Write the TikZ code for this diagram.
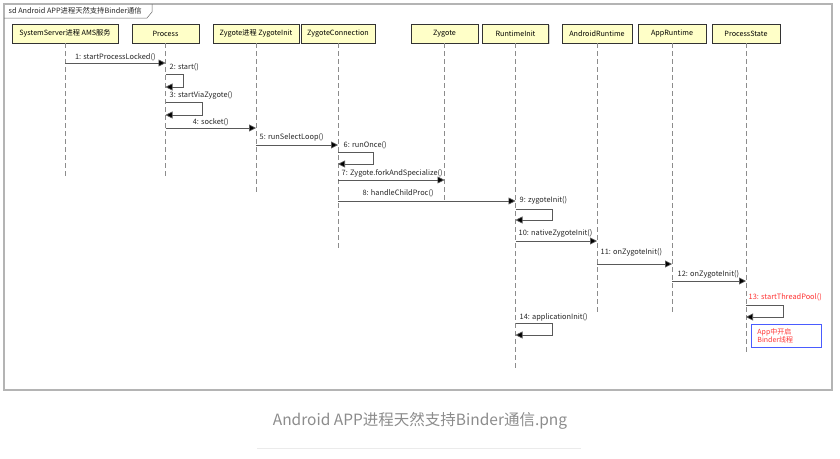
\documentclass[tikz,border=0pt]{standalone}
\usepackage{fontspec}
\setmainfont{Noto Sans CJK SC}
\usetikzlibrary{arrows.meta, positioning, shadows}

\definecolor{headfill}{HTML}{FFFFC8}
\definecolor{framegray}{HTML}{B4B4B4}
\definecolor{capgray}{HTML}{8C8C8C}
\definecolor{notered}{HTML}{FF3333}
\definecolor{noteblue}{HTML}{4A5CFF}

\tikzset{
  head/.style={draw=black!80, fill=headfill, minimum height=19pt, inner sep=0pt,
    font=\fontsize{7.2}{8}\selectfont,
    drop shadow={shadow xshift=1pt, shadow yshift=-1pt, fill=black!35}},
  life/.style={draw=black!45, dash pattern=on 5pt off 3pt, line width=0.7pt},
  msg/.style={draw=black!65, line width=0.7pt, -{Triangle[length=7pt,width=7pt,fill=black]}},
  lbl/.style={font=\fontsize{7.4}{8}\selectfont, inner sep=0.5pt, text=black!85},
}

\begin{document}
\begin{tikzpicture}[x=1pt, y=-1pt]
    \useasboundingbox (0,0) rectangle (840,458);

    % --- 1. 外框與標題 ---
    \draw[framegray, line width=1.5pt] (4,4) rectangle (832,390);
    \draw[black!60, line width=0.5pt] (4,18) -- (147,18) -- (152,12) -- (152,4);
    \node[lbl, anchor=west, font=\fontsize{7.3}{8}\selectfont] (title) at (8,11) {sd Android APP进程天然支持Binder通信};

    % --- 2. 參與者 ---
    \node[head, minimum width=106pt] (ss)  at (65,33.5)  {SystemServer进程 AMS服务};
    \node[head, minimum width=67pt]  (proc) at (165.5,33.5) {Process};
    \node[head, minimum width=86pt]  (zi)  at (256,33.5)  {Zygote进程 ZygoteInit};
    \node[head, minimum width=74pt]  (zc)  at (338,33.5)  {ZygoteConnection};
    \node[head, minimum width=67pt]  (zy)  at (444.5,33.5) {Zygote};
    \node[head, minimum width=66pt]  (ri)  at (515.5,33.5) {RuntimeInit};
    \node[head, minimum width=70pt]  (ar)  at (597,33.5)  {AndroidRuntime};
    \node[head, minimum width=68pt]  (apr) at (672,33.5)  {AppRuntime};
    \node[head, minimum width=68pt]  (ps)  at (746,33.5)  {ProcessState};

    % --- 3. 生命線 ---
    \draw[life] (ss.south)   -- (ss |- 0,177);
    \draw[life] (proc.south) -- (proc |- 0,177);
    \draw[life] (zi.south)   -- (zi |- 0,193);
    \draw[life] (zc.south)   -- (zc |- 0,248);
    \draw[life] (zy.south)   -- (zy |- 0,202);
    \draw[life] (ri.south)   -- (ri |- 0,370);
    \draw[life] (ar.south)   -- (ar |- 0,313);
    \draw[life] (apr.south)  -- (apr |- 0,313);
    \draw[life] (ps.south)   -- (ps |- 0,353);

    % --- 4. 訊息 1--8 ---
    \draw[msg] (ss |- 0,63) -- node[lbl, above=1.5pt] {1: startProcessLocked()} (proc |- 0,63);
    \node[lbl, anchor=south west] (m2) at (169,72) {2: start()};
    \draw[msg] (proc |- 0,74) -- ++(18,0) -- ++(0,13) -- (proc |- 0,87);
    \node[lbl, anchor=south west] (m3) at (169,100) {3: startViaZygote()};
    \draw[msg] (proc |- 0,102) -- ++(37,0) -- ++(0,13) -- (proc |- 0,115);
    \draw[msg] (proc |- 0,128) -- node[lbl, above=1.5pt] {4: socket()} (zi |- 0,128);
    \draw[msg] (zi |- 0,145) -- (zc |- 0,145);
    \node[lbl, anchor=south west] (m5) at (259,142) {5: runSelectLoop()};
    \node[lbl, anchor=south west] (m6) at (343,150) {6: runOnce()};
    \draw[msg] (zc |- 0,152) -- ++(35,0) -- ++(0,12) -- (zc |- 0,164);
    \draw[msg] (zc |- 0,180) -- (zy |- 0,180);
    \node[lbl, anchor=south west] (m7) at (341,178) {7: Zygote.forkAndSpecialize()};
    \draw[msg] (zc |- 0,201) -- (ri |- 0,201);
    \node[lbl, anchor=south] (m8) at (398,198) {8: handleChildProc()};

    % --- 5. 訊息 9--14 ---
    \node[lbl, anchor=south west] (m9) at (519,205) {9: zygoteInit()};
    \draw[msg] (ri |- 0,209) -- ++(37,0) -- ++(0,11) -- (ri |- 0,220);
    \draw[msg] (ri |- 0,241) -- (ar |- 0,241);
    \node[lbl, anchor=south west] (m10) at (518,238) {10: nativeZygoteInit()};
    \draw[msg] (ar |- 0,264) -- (apr |- 0,264);
    \node[lbl, anchor=south west] (m11) at (600,257) {11: onZygoteInit()};
    \draw[msg] (apr |- 0,281) -- (ps |- 0,281);
    \node[lbl, anchor=south west] (m12) at (677,279) {12: onZygoteInit()};
    \node[lbl, anchor=south west, text=notered] (m13) at (748,302) {13: startThreadPool()};
    \draw[msg] (ps |- 0,305) -- ++(37,0) -- ++(0,12) -- (ps |- 0,317);
    \node[draw=noteblue, line width=0.8pt, text width=58pt, minimum height=23pt,
          anchor=north west, align=left, font=\fontsize{7}{8.5}\selectfont,
          text=notered, inner xsep=6pt, inner ysep=2pt] (note) at (751,324) {App中开启\\Binder线程};
    \node[lbl, anchor=south west] (m14) at (519,322) {14: applicationInit()};
    \draw[msg] (ri |- 0,323) -- ++(37,0) -- ++(0,12) -- (ri |- 0,335);

    % --- 6. 圖說 ---
    \node[text=capgray, font=\fontsize{15.5}{18}\selectfont] (cap) at (420,421) {Android APP进程天然支持Binder通信.png};
    \draw[black!8, line width=0.6pt] (257,448) -- (581,448);

\end{tikzpicture}
\end{document}
